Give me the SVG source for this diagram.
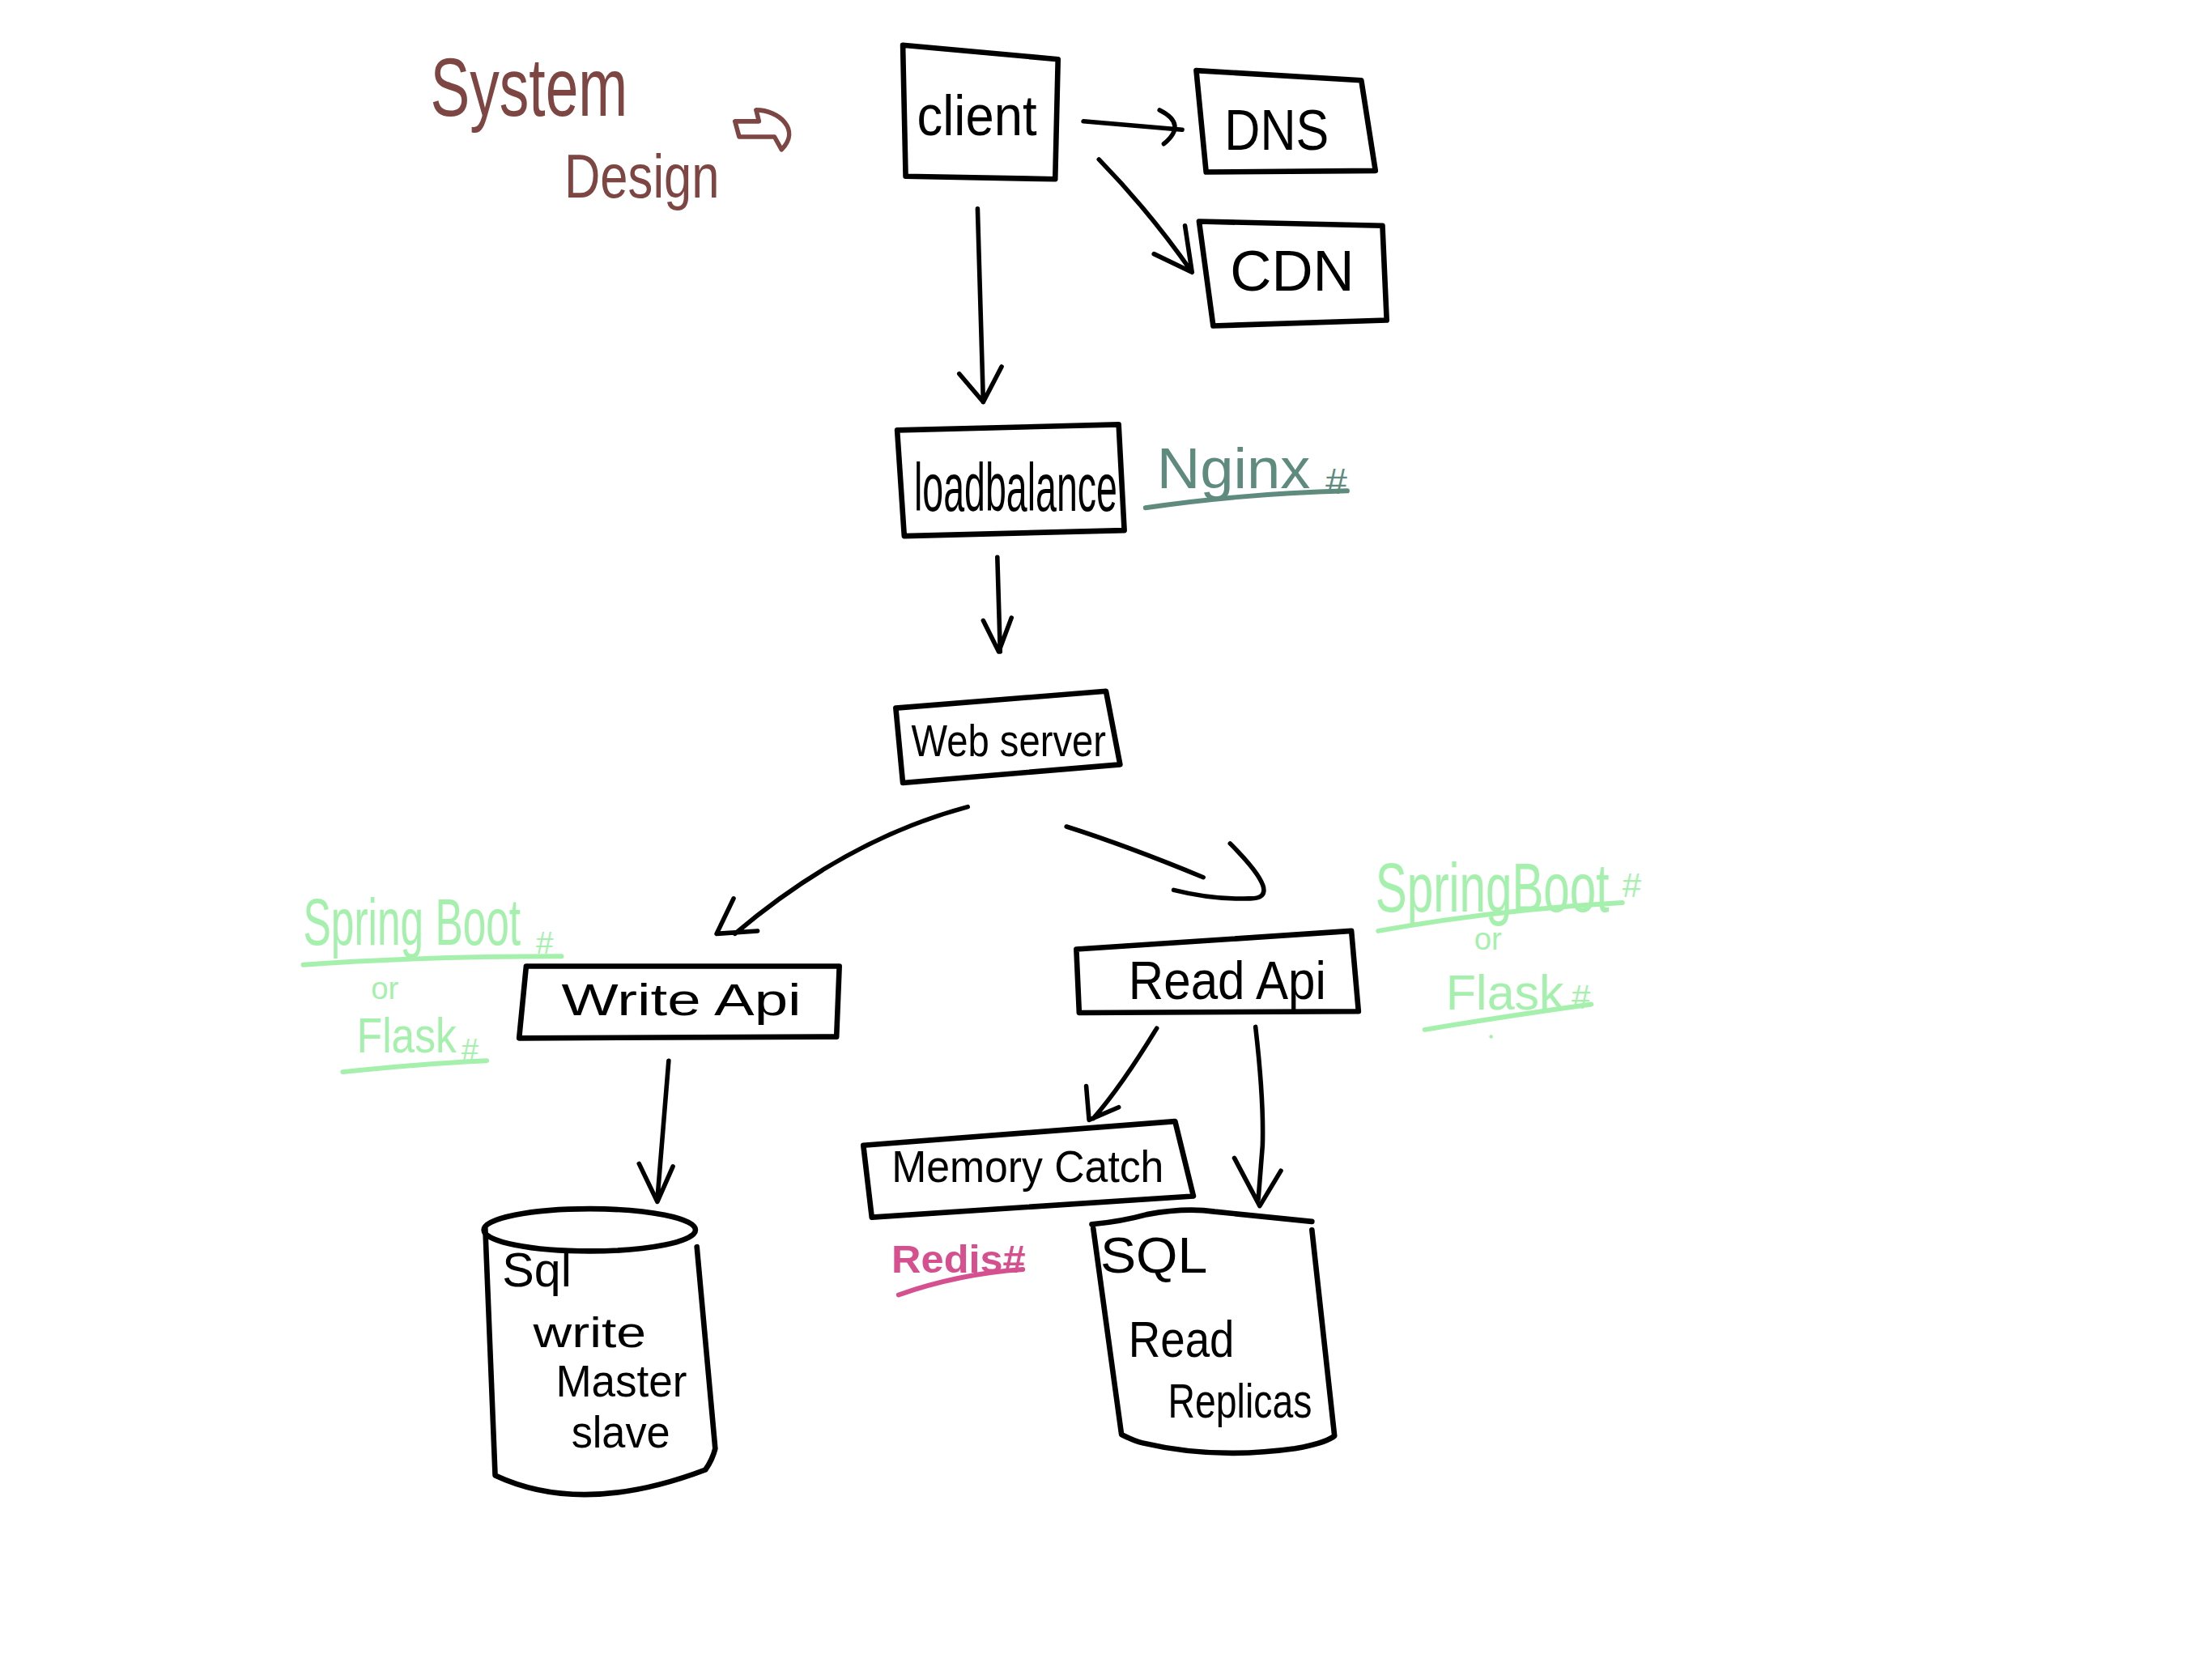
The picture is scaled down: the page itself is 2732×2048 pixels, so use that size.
<svg xmlns="http://www.w3.org/2000/svg" width="2732" height="2048" viewBox="0 0 2732 2048">
<style>
.bx{fill:none;stroke:#000;stroke-width:3.8;stroke-linejoin:round;stroke-linecap:round}
.ln{fill:none;stroke:#000;stroke-width:3.2;stroke-linecap:round;stroke-linejoin:round}
.t{font-family:"Liberation Sans","DejaVu Sans",sans-serif;fill:#000}
.br{fill:#7d4642;font-family:"Liberation Sans",sans-serif}
.gg{fill:#5e8b7e;font-family:"Liberation Sans",sans-serif}
.lg{fill:#a6f0ae;font-family:"Liberation Sans",sans-serif}
.pk{fill:#d5508f;font-family:"Liberation Sans",sans-serif;font-weight:bold}
.ul{fill:none;stroke-width:3.4;stroke-linecap:round}
</style>
<rect width="2732" height="2048" fill="#fff"/>
<g transform="scale(1.7423)">
<g id="title">
<text class="br" x="305" y="82" font-size="58" textLength="140" lengthAdjust="spacingAndGlyphs">System</text>
<text class="br" x="400" y="140" font-size="44" textLength="110" lengthAdjust="spacingAndGlyphs">Design</text>
<path d="M521,86 L538,86 L536,78 C552,78 568,92 554,106 L549,97 L524,97 Z" fill="none" stroke="#7d4642" stroke-width="3.2" stroke-linejoin="round"/>
</g>
<g id="connectors">
<path class="ln" d="M768,86 L838,92 M822,78 Q842,88 825,102"/>
<path class="ln" d="M779,113 Q815,150 845,193 M818,180 L845,193 L840,160"/>
<path class="ln" d="M693,148 L697,285 M680,265 L697,285 L710,260"/>
<path class="ln" d="M707,395 L709,462 M697,440 L708,462 L717,438"/>
<path class="ln" d="M686,572 Q600,595 521,662 M520,637 L508,662 L537,660"/>
<path class="ln" d="M756,586 Q800,600 853,622 M872,598 Q912,638 885,637 Q860,638 832,631"/>
<path class="ln" d="M474,752 L466,850 M453,825 L466,852 L477,827"/>
<path class="ln" d="M820,729 Q795,770 775,793 M770,770 L772,794 L793,785"/>
<path class="ln" d="M890,728 Q896,780 895,812 L892,850 M875,821 L893,855 L908,830"/>
</g>
<g id="client">
<path class="bx" d="M640,32 L750,42 L748,127 L642,125 Z"/>
<text class="t" x="650" y="96" font-size="40" textLength="85" lengthAdjust="spacingAndGlyphs">client</text>
</g>
<g id="dns">
<path class="bx" d="M848,50 L965,57 L975,121 L855,122 Z"/>
<text class="t" x="868" y="106" font-size="40" textLength="74" lengthAdjust="spacingAndGlyphs">DNS</text>
</g>
<g id="cdn">
<path class="bx" d="M850,157 L980,160 L983,227 L860,231 Z"/>
<text class="t" x="872" y="206" font-size="40" textLength="88" lengthAdjust="spacingAndGlyphs">CDN</text>
</g>
<g id="loadbalance">
<path class="bx" d="M636,305 L793,301 L797,376 L641,380 Z"/>
<text class="t" transform="translate(648,362) scale(1,1.8)" x="0" y="0" font-size="26.5" textLength="144" lengthAdjust="spacingAndGlyphs">loadbalance</text>
</g>
<g id="nginx">
<text class="gg" x="820" y="346" font-size="40" textLength="135" lengthAdjust="spacingAndGlyphs">Nginx<tspan font-size="26" dx="10" dy="4">#</tspan></text>
<path class="ul" stroke="#5e8b7e" d="M812,360 Q880,350 955,348"/>
</g>
<g id="webserver">
<path class="bx" d="M635,502 L784,490 L794,542 L640,555 Z"/>
<text class="t" x="646" y="536" font-size="32" textLength="138" lengthAdjust="spacingAndGlyphs">Web server</text>
</g>
<g id="writeapi">
<path class="bx" d="M373,685 L595,685 L593,735 L368,736 Z"/>
<text class="t" x="398" y="720" font-size="32" textLength="170" lengthAdjust="spacingAndGlyphs">Write  Api</text>
</g>
<g id="springleft">
<text class="lg" transform="translate(215,670) scale(1,1.6)" x="0" y="0" font-size="29.5">Spring Boot</text>
<text class="lg" x="380" y="676" font-size="22">#</text>
<path class="ul" stroke="#a6f0ae" d="M215,684 Q300,678 398,678"/>
<text class="lg" x="263" y="708" font-size="22">or</text>
<text class="lg" transform="translate(253,746) scale(1,1.2)" x="0" y="0" font-size="29.5">Flask</text>
<text class="lg" x="327" y="752" font-size="22">#</text>
<path class="ul" stroke="#a6f0ae" d="M243,760 Q300,754 345,752"/>
</g>
<g id="readapi">
<path class="bx" d="M763,673 L958,660 L963,717 L765,718 Z"/>
<text class="t" x="800" y="708" font-size="38" textLength="140" lengthAdjust="spacingAndGlyphs">Read  Api</text>
</g>
<g id="springright">
<text class="lg" transform="translate(975,646) scale(1,1.45)" x="0" y="0" font-size="33.5">SpringBoot</text>
<text class="lg" x="1150" y="636" font-size="24">#</text>
<path class="ul" stroke="#a6f0ae" d="M977,660 Q1060,645 1150,640"/>
<text class="lg" x="1045" y="673" font-size="22">or</text>
<text class="lg" x="1025" y="716" font-size="35">Flask</text>
<text class="lg" x="1114" y="715" font-size="24">#</text>
<path class="ul" stroke="#a6f0ae" d="M1010,730 Q1070,720 1128,712"/>
<circle cx="1057" cy="735" r="1.3" fill="#a6f0ae"/>
</g>
<g id="memorycatch">
<path class="bx" d="M612,812 L833,795 L846,848 L618,863 Z"/>
<text class="t" x="632" y="838" font-size="32" textLength="193" lengthAdjust="spacingAndGlyphs">Memory Catch</text>
</g>
<g id="redis">
<text class="pk" x="632" y="902" font-size="28" textLength="95" lengthAdjust="spacingAndGlyphs">Redis#</text>
<path class="ul" stroke="#d5508f" d="M637,918 Q680,903 725,900"/>
</g>
<g id="sqlwrite">
<ellipse class="bx" cx="418" cy="872" rx="75" ry="15"/>
<path class="bx" d="M344,871 L351,1046 Q413,1075 500,1042 Q505,1035 507,1027 L494,884"/>
<text class="t" x="356" y="912" font-size="34">Sql</text>
<text class="t" x="378" y="955" font-size="30" textLength="80" lengthAdjust="spacingAndGlyphs">write</text>
<text class="t" x="394" y="990" font-size="32" textLength="93" lengthAdjust="spacingAndGlyphs">Master</text>
<text class="t" x="405" y="1026" font-size="32" textLength="70" lengthAdjust="spacingAndGlyphs">slave</text>
</g>
<g id="sqlread">
<path class="bx" d="M774,868 Q795,866 813,861 Q840,856 861,859 Q900,863 930,866"/>
<path class="bx" d="M775,871 L795,1017 Q805,1022 810,1023 Q861,1035 918,1027 Q940,1023 946,1018 L930,872"/>
<text class="t" x="780" y="902" font-size="36" textLength="76" lengthAdjust="spacingAndGlyphs">SQL</text>
<text class="t" x="800" y="962" font-size="36" textLength="75" lengthAdjust="spacingAndGlyphs">Read</text>
<text class="t" x="828" y="1005" font-size="34" textLength="102" lengthAdjust="spacingAndGlyphs">Replicas</text>
</g>
</g>
</svg>
